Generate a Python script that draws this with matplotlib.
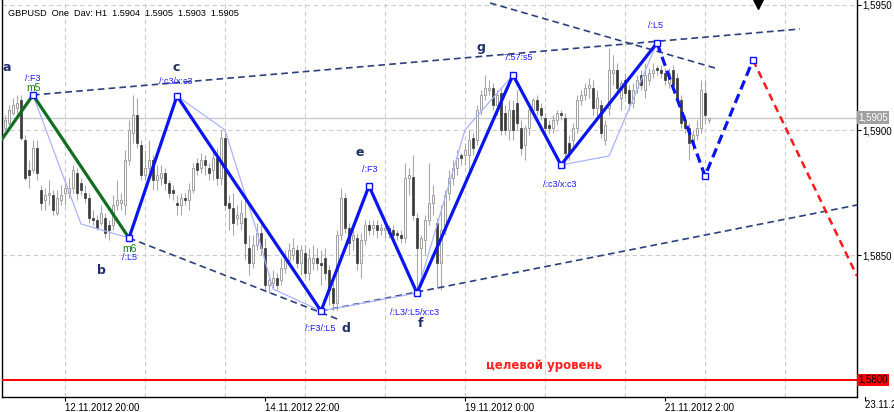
import numpy as np
import matplotlib
matplotlib.use("Agg")
import matplotlib.pyplot as plt
import matplotlib.transforms as mtransforms

plt.rcParams['font.family'] = ['Liberation Sans', 'DejaVu Sans']

# GBPUSD H1 bars, first bar is 16 hours before 12.11.2012 20:00
first_bar = -16
opens = [1.5896, 1.5901, 1.5903, 1.5907, 1.5909, 1.5912, 1.5896, 1.5884, 1.5884, 1.5893,
         1.5876, 1.5872, 1.5874, 1.5874, 1.5867, 1.5872, 1.5875, 1.5875, 1.5877, 1.5883,
         1.5879, 1.5875, 1.5873, 1.5865, 1.5864, 1.5863, 1.5865, 1.5862, 1.5862, 1.5870,
         1.5871, 1.5870, 1.5888, 1.5899, 1.5906, 1.5894, 1.5882, 1.5885, 1.5888, 1.5880,
         1.5881, 1.5883, 1.5879, 1.5876, 1.5871, 1.5870, 1.5873, 1.5872, 1.5876, 1.5887,
         1.5885, 1.5888, 1.5885, 1.5884, 1.5889, 1.5881, 1.5897, 1.5871, 1.5869, 1.5865,
         1.5863, 1.5865, 1.5853, 1.5847, 1.5854, 1.5859, 1.5853, 1.5838, 1.5839, 1.5841,
         1.5840, 1.5845, 1.5848, 1.5850, 1.5852, 1.5847, 1.5851, 1.5843, 1.5847, 1.5849,
         1.5847, 1.5849, 1.5844, 1.5837, 1.5831, 1.5858, 1.5873, 1.5861, 1.5856, 1.5857,
         1.5847, 1.5856, 1.5862, 1.5861, 1.5862, 1.5860, 1.5860, 1.5861, 1.5860, 1.5859,
         1.5858, 1.5857, 1.5881, 1.5881, 1.5865, 1.5853, 1.5856, 1.5864, 1.5871, 1.5863,
         1.5847, 1.5860, 1.5875, 1.5881, 1.5885, 1.5890, 1.5890, 1.5890, 1.5897, 1.5896,
         1.5908, 1.5914, 1.5916, 1.5917, 1.5910, 1.5915, 1.5907, 1.5900, 1.5908, 1.5911,
         1.5901, 1.5894, 1.5901, 1.5908, 1.5912, 1.5909, 1.5905, 1.5902, 1.5901, 1.5904,
         1.5907, 1.5905, 1.5895, 1.5896, 1.5901, 1.5912, 1.5914, 1.5917, 1.5917, 1.5909,
         1.5910, 1.5896, 1.5909, 1.5923, 1.5924, 1.5913, 1.5920, 1.5916, 1.5911, 1.5917,
         1.5922, 1.5916, 1.5920, 1.5923, 1.5925, 1.5924, 1.5923, 1.5919, 1.5924, 1.5921,
         1.5912, 1.5904, 1.5901, 1.5895, 1.5898, 1.5901, 1.5915, 1.5904]
highs = [1.5903, 1.5906, 1.5910, 1.5913, 1.5914, 1.5914, 1.5898, 1.5888, 1.5896, 1.5896,
         1.5878, 1.5877, 1.5880, 1.5876, 1.5876, 1.5878, 1.5880, 1.5881, 1.5886, 1.5885,
         1.5881, 1.5878, 1.5875, 1.5868, 1.5866, 1.5870, 1.5867, 1.5864, 1.5874, 1.5880,
         1.5875, 1.5892, 1.5904, 1.5914, 1.5913, 1.5896, 1.5892, 1.5896, 1.5890, 1.5886,
         1.5886, 1.5885, 1.5880, 1.5878, 1.5874, 1.5875, 1.5875, 1.5879, 1.5887, 1.5889,
         1.5891, 1.5890, 1.5887, 1.5893, 1.5893, 1.5900, 1.5899, 1.5874, 1.5875, 1.5870,
         1.5872, 1.5872, 1.5858, 1.5858, 1.5863, 1.5862, 1.5857, 1.5843, 1.5844, 1.5843,
         1.5849, 1.5852, 1.5855, 1.5857, 1.5854, 1.5854, 1.5854, 1.5853, 1.5854, 1.5853,
         1.5852, 1.5853, 1.5846, 1.5839, 1.5860, 1.5877, 1.5875, 1.5863, 1.5860, 1.5859,
         1.5859, 1.5864, 1.5864, 1.5864, 1.5864, 1.5863, 1.5863, 1.5862, 1.5862, 1.5860,
         1.5860, 1.5887, 1.5885, 1.5890, 1.5867, 1.5858, 1.5866, 1.5887, 1.5878, 1.5865,
         1.5870, 1.5876, 1.5884, 1.5888, 1.5892, 1.5891, 1.5895, 1.5900, 1.5899, 1.5910,
         1.5916, 1.5922, 1.5920, 1.5919, 1.5916, 1.5917, 1.5910, 1.5912, 1.5912, 1.5916,
         1.5904, 1.5902, 1.5910, 1.5913, 1.5914, 1.5911, 1.5907, 1.5904, 1.5906, 1.5908,
         1.5908, 1.5907, 1.5898, 1.5903, 1.5914, 1.5916, 1.5919, 1.5921, 1.5920, 1.5916,
         1.5912, 1.5904, 1.5933, 1.5930, 1.5927, 1.5920, 1.5923, 1.5918, 1.5919, 1.5922,
         1.5924, 1.5927, 1.5925, 1.5927, 1.5926, 1.5926, 1.5925, 1.5925, 1.5926, 1.5923,
         1.5914, 1.5906, 1.5903, 1.5900, 1.5904, 1.5920, 1.5920, 1.5905]
lows = [1.5894, 1.5900, 1.5902, 1.5906, 1.5907, 1.5896, 1.5880, 1.5877, 1.5883, 1.5880,
        1.5868, 1.5868, 1.5870, 1.5866, 1.5866, 1.5870, 1.5870, 1.5873, 1.5875, 1.5872,
        1.5874, 1.5871, 1.5863, 1.5862, 1.5860, 1.5862, 1.5857, 1.5856, 1.5860, 1.5868,
        1.5868, 1.5866, 1.5886, 1.5895, 1.5893, 1.5880, 1.5880, 1.5883, 1.5876, 1.5876,
        1.5878, 1.5876, 1.5873, 1.5872, 1.5866, 1.5866, 1.5870, 1.5868, 1.5875, 1.5882,
        1.5883, 1.5882, 1.5880, 1.5880, 1.5878, 1.5878, 1.5868, 1.5860, 1.5858, 1.5862,
        1.5860, 1.5848, 1.5842, 1.5845, 1.5852, 1.5850, 1.5836, 1.5835, 1.5837, 1.5836,
        1.5838, 1.5843, 1.5846, 1.5848, 1.5845, 1.5842, 1.5841, 1.5840, 1.5844, 1.5844,
        1.5838, 1.5840, 1.5830, 1.5828, 1.5828, 1.5856, 1.5859, 1.5850, 1.5852, 1.5844,
        1.5841, 1.5854, 1.5858, 1.5858, 1.5857, 1.5858, 1.5857, 1.5857, 1.5856, 1.5856,
        1.5855, 1.5855, 1.5874, 1.5864, 1.5834, 1.5840, 1.5850, 1.5862, 1.5866, 1.5837,
        1.5836, 1.5858, 1.5872, 1.5878, 1.5882, 1.5886, 1.5886, 1.5884, 1.5890, 1.5894,
        1.5906, 1.5912, 1.5914, 1.5908, 1.5906, 1.5898, 1.5898, 1.5896, 1.5896, 1.5900,
        1.5890, 1.5888, 1.5898, 1.5906, 1.5906, 1.5904, 1.5898, 1.5899, 1.5899, 1.5902,
        1.5904, 1.5885, 1.5888, 1.5893, 1.5899, 1.5910, 1.5912, 1.5913, 1.5906, 1.5905,
        1.5897, 1.5894, 1.5906, 1.5918, 1.5914, 1.5908, 1.5913, 1.5908, 1.5909, 1.5915,
        1.5916, 1.5913, 1.5918, 1.5921, 1.5922, 1.5921, 1.5918, 1.5917, 1.5916, 1.5911,
        1.5901, 1.5899, 1.5888, 1.5892, 1.5896, 1.5899, 1.5903, 1.5903]
closes = [1.5901, 1.5904, 1.5908, 1.5910, 1.5911, 1.5897, 1.5881, 1.5882, 1.5893, 1.5883,
          1.5871, 1.5874, 1.5875, 1.5868, 1.5873, 1.5874, 1.5877, 1.5877, 1.5884, 1.5875,
          1.5876, 1.5873, 1.5865, 1.5864, 1.5861, 1.5867, 1.5859, 1.5860, 1.5870, 1.5872,
          1.5872, 1.5888, 1.5900, 1.5906, 1.5895, 1.5882, 1.5885, 1.5888, 1.5880, 1.5882,
          1.5883, 1.5879, 1.5875, 1.5875, 1.5870, 1.5873, 1.5872, 1.5876, 1.5885, 1.5884,
          1.5888, 1.5886, 1.5883, 1.5889, 1.5881, 1.5897, 1.5870, 1.5869, 1.5863, 1.5866,
          1.5867, 1.5855, 1.5847, 1.5854, 1.5859, 1.5853, 1.5838, 1.5840, 1.5841, 1.5838,
          1.5845, 1.5848, 1.5852, 1.5853, 1.5847, 1.5852, 1.5843, 1.5849, 1.5849, 1.5847,
          1.5846, 1.5843, 1.5836, 1.5831, 1.5858, 1.5873, 1.5861, 1.5855, 1.5858, 1.5847,
          1.5856, 1.5862, 1.5860, 1.5862, 1.5860, 1.5861, 1.5861, 1.5859, 1.5858, 1.5858,
          1.5857, 1.5881, 1.5882, 1.5866, 1.5853, 1.5857, 1.5864, 1.5871, 1.5874, 1.5847,
          1.5860, 1.5874, 1.5881, 1.5885, 1.5889, 1.5889, 1.5892, 1.5896, 1.5893, 1.5908,
          1.5914, 1.5917, 1.5917, 1.5910, 1.5914, 1.5900, 1.5900, 1.5908, 1.5900, 1.5903,
          1.5893, 1.5901, 1.5908, 1.5912, 1.5908, 1.5906, 1.5901, 1.5901, 1.5904, 1.5907,
          1.5906, 1.5891, 1.5891, 1.5901, 1.5912, 1.5914, 1.5917, 1.5918, 1.5909, 1.5913,
          1.5899, 1.5902, 1.5924, 1.5924, 1.5917, 1.5919, 1.5915, 1.5911, 1.5916, 1.5920,
          1.5918, 1.5922, 1.5923, 1.5924, 1.5924, 1.5923, 1.5920, 1.5923, 1.5918, 1.5912,
          1.5903, 1.5901, 1.5895, 1.5898, 1.5901, 1.5916, 1.5906, 1.5905]

# zigzag vertices (bar index, price)
green_bars = [-16.25, -8, 16]
green_prices = [1.58952, 1.5914, 1.58568]
blue_bars = [16, 28, 64, 76, 88, 112, 124, 148]
blue_prices = [1.58568, 1.59136, 1.58276, 1.58776, 1.58348, 1.5922, 1.5886, 1.59348]
proj_bars = [148, 160, 172]
proj_prices = [1.59348, 1.58816, 1.5928]
target_bars = [172, 198]
target_prices = [1.5928, 1.58416]
light_bars = [-8, 4, 16, 28, 40, 48, 52, 64, 88, 100, 112, 124, 136, 148]
light_prices = [1.5914, 1.58624, 1.58568, 1.59136, 1.5900, 1.58592, 1.58364, 1.58276,
                1.58348, 1.5900, 1.5922, 1.5886, 1.58896, 1.59348]
# channel lines: (bar0, price0, bar1, price1)
channels = [(-8, 1.5914, 183.75, 1.59404),
            (16, 1.58568, 68.75, 1.5824),
            (64, 1.58276, 198, 1.5870),
            (106.25, 1.59508, 162.5, 1.59248)]

# labels: text, bar, price
letters = [("a", -14.5, 1.59252), ("b", 9, 1.5844), ("c", 27.75, 1.5925),
           ("d", 70.25, 1.58208), ("e", 73.75, 1.58908), ("f", 88.75, 1.58228),
           ("g", 104, 1.59328)]
blue_notes = [("/:F3", -8, 1.59208), ("/:c3/x:c3", 27.75, 1.59196), ("/:L5", 16, 1.58488),
              ("/:F3", 76.25, 1.5884), ("/:F3/:L5", 63.75, 1.58208),
              ("/:L3/:L5/x:c3", 87.5, 1.58272), ("7:57:s5", 113.25, 1.59288),
              ("/:c3/x:c3", 123.75, 1.58784), ("/:L5", 147.5, 1.59416)]
green_notes = [("m5", -8, 1.59168), ("m6", 16, 1.58524)]

tick_bars = [0, 50, 100, 150]
tick_labels = ["12.11.2012 20:00", "14.11.2012 22:00", "19.11.2012 0:00", "21.11.2012 2:00"]
last_tick_label = "23.11.2012 4:00"
price_ticks = [1.5850, 1.5900, 1.5950]
grid_prices = [1.5800, 1.5850, 1.5900, 1.5950]
grid_bars = [0, 20, 40, 60, 80, 100, 120, 140, 160, 180]
bid_price = 1.5905
target_level = 1.5800

fig = plt.figure(figsize=(8.94, 4.12), dpi=100)
ax = fig.add_axes([2 / 894, 15 / 412, 855 / 894, 397 / 412])
ax.set_xlim(-15.75, 198)
ax.set_ylim(1.57932, 1.5952)

for b in grid_bars:
    ax.axvline(b, color='#cccccc', lw=0.8, ls=(0, (4, 3)), zorder=0)
for p in grid_prices:
    ax.axhline(p, color='#cccccc', lw=0.8, ls=(0, (4, 3)), zorder=0)
ax.axhline(bid_price, color='#c8c8c8', lw=1, zorder=0)

# candles
o = np.array(opens)
h = np.array(highs)
l = np.array(lows)
c = np.array(closes)
x = np.arange(len(o)) + first_bar
ax.vlines(x, l, h, color='#a8a8a8', lw=0.8, zorder=1)
up = c >= o
body = np.maximum(np.abs(c - o), 0.00003)
ax.bar(x[up], body[up], bottom=np.minimum(o, c)[up], width=0.7,
       facecolor='white', edgecolor='#a0a0a0', linewidth=0.7, zorder=2)
ax.bar(x[~up], body[~up], bottom=np.minimum(o, c)[~up], width=0.7,
       facecolor='#3a3a3a', edgecolor='#3a3a3a', linewidth=0.5, zorder=2)

# target line
ax.axhline(target_level, color='#ff0000', lw=1.4, zorder=3)

# channels
for b0, p0, b1, p1 in channels:
    ax.plot([b0, b1], [p0, p1], color='#2c3f7e', lw=1.2, dashes=(4, 2.5), zorder=3)

# zigzags
ax.plot(light_bars, light_prices, color='#aab4ff', lw=0.9, zorder=3)
ax.plot(green_bars, green_prices, color='#0f6e23', lw=2.3, zorder=4)
ax.plot(blue_bars, blue_prices, color='#0a14f0', lw=2.3, zorder=4)
ax.plot(proj_bars, proj_prices, color='#0a14f0', lw=2.3, dashes=(3, 1.6), zorder=4)
ax.plot(target_bars, target_prices, color='#ff1a1a', lw=1.8, dashes=(3, 2), zorder=4)
mk_bars = green_bars[1:] + blue_bars[1:] + proj_bars[1:]
mk_prices = green_prices[1:] + blue_prices[1:] + proj_prices[1:]
ax.plot(mk_bars, mk_prices, ls='none', marker='s', ms=5, mfc='white', mec='#0a14f0',
        mew=1, zorder=5)

for t, b, p in letters:
    ax.text(b, p, t, color='#1f2f6b', fontsize=9, fontweight='bold', family='DejaVu Sans',
            ha='center', va='center', zorder=6)
for t, b, p in blue_notes:
    ax.text(b, p, t, color='#1a1aff', fontsize=6.5, ha='center', va='center', zorder=6)
for t, b, p in green_notes:
    ax.text(b, p, t, color='#0a7a10', fontsize=7.5, ha='center', va='center', zorder=6)

ax.text(105.25, 1.5806, "целевой уровень", color='#ff2020', fontsize=8.5,
        fontweight='bold', family='DejaVu Sans', ha='left', va='center', zorder=6)

# shift marker at the top
trans = mtransforms.blended_transform_factory(ax.transData, ax.transAxes)
ax.plot([173.25], [0.99], marker='v', ms=7, color='black', transform=trans,
        clip_on=False, zorder=7)

# axes styling
ax.spines['top'].set_visible(False)
for s in ['left', 'right', 'bottom']:
    ax.spines[s].set_color('black')
    ax.spines[s].set_linewidth(1)
ax.yaxis.tick_right()
ax.set_yticks(price_ticks)
ax.set_yticklabels([f"{p:.4f}".replace('.', ',') for p in price_ticks], fontsize=7)
ax.tick_params(axis='y', length=3, pad=1)
ax.set_xticks(tick_bars)
ax.set_xticklabels(tick_labels, fontsize=7, ha='left')
ax.tick_params(axis='x', length=3, pad=1)

right_trans = mtransforms.blended_transform_factory(ax.transAxes, ax.transData)
ax.text(1.0015, bid_price, "1,5905", transform=right_trans,
        color='white', fontsize=7, va='center', ha='left',
        bbox=dict(boxstyle='square,pad=0.15', fc='#a0a0a0', ec='none'), zorder=8)
ax.text(1.0015, target_level, "1,5800", transform=right_trans,
        color='black', fontsize=7, va='center', ha='left',
        bbox=dict(boxstyle='square,pad=0.15', fc='#ff0000', ec='none'), zorder=8)

fig.text(865 / 894, 1 - 405 / 412, last_tick_label, fontsize=7, ha='left', va='center')
fig.lines.append(plt.Line2D([865 / 894, 865 / 894], [15 / 412, 12 / 412],
                            color='black', lw=0.8, transform=fig.transFigure))

fig.text(8 / 894, 1 - 13 / 412, "GBPUSD  One  Dav: H1  1.5904  1.5905  1.5903  1.5905",
         fontsize=6.6, ha='left', va='center')

fig.savefig("out.png", dpi=100)
